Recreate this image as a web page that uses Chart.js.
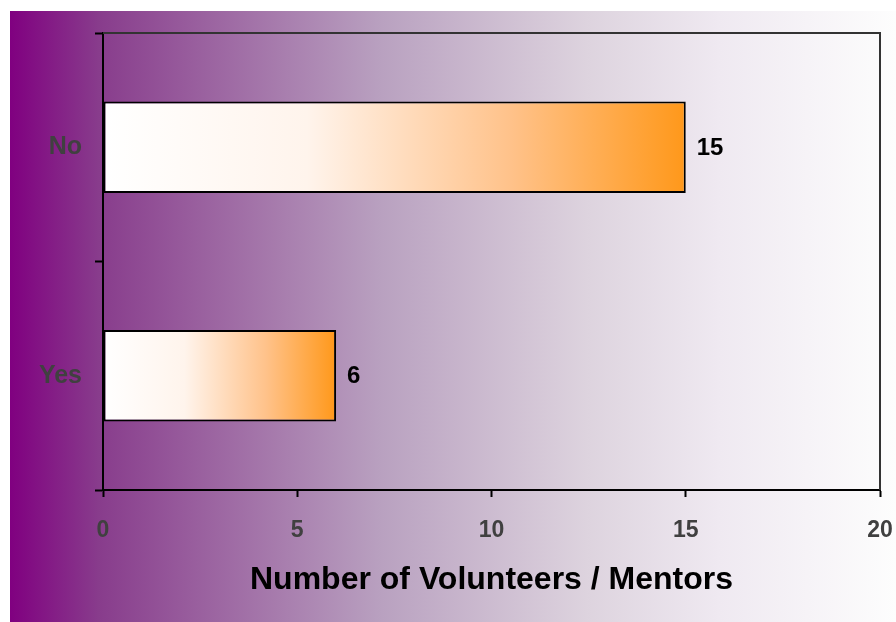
<!DOCTYPE html>
<html>
<head>
<meta charset="utf-8">
<script src="https://cdn.jsdelivr.net/npm/chart.js@4.4.0/dist/chart.umd.min.js"></script>
<style>
  html, body { margin: 0; padding: 0; background: #fff; }
  #wrap { width: 896px; height: 622px; }
</style>
</head>
<body>
<div id="wrap"><canvas id="myChart" width="896" height="622"></canvas></div>
<script>
// Survey answers and counts
const answers = ['No', 'Yes'];
const counts = [15, 6];
const xTicks = [0, 5, 10, 15, 20];

// Purple-to-white wash behind the whole chart
const backdrop = {
  id: 'backdrop',
  beforeDraw(chart) {
    const c = chart.ctx;
    c.save();
    c.fillStyle = '#ffffff';
    c.fillRect(0, 0, chart.width, chart.height);
    const g = c.createLinearGradient(10, 0, chart.width, 0);
    g.addColorStop(0, '#800080');
    g.addColorStop(0.1, '#883c8c');
    g.addColorStop(0.42, '#b9a1c0');
    g.addColorStop(0.65, '#ddd3de');
    g.addColorStop(0.8, '#efe9f1');
    g.addColorStop(1, '#fdfdfd');
    c.fillStyle = g;
    c.fillRect(10, 11, chart.width - 10, chart.height - 11);
    c.restore();
  }
};

// Top and right edges of the plot box, plus value labels
const frame = {
  id: 'frame',
  afterDatasetsDraw(chart) {
    const c = chart.ctx;
    const a = chart.chartArea;
    c.save();
    c.strokeStyle = '#333333';
    c.lineWidth = 2;
    c.beginPath();
    c.moveTo(a.left, a.top);
    c.lineTo(a.right, a.top);
    c.lineTo(a.right, a.bottom);
    c.stroke();

    c.fillStyle = '#000000';
    c.font = 'bold 24px "Liberation Sans", Arial, sans-serif';
    c.textBaseline = 'middle';
    c.textAlign = 'left';
    chart.getDatasetMeta(0).data.forEach((bar, i) => {
      c.fillText(String(counts[i]), bar.x + 11, bar.y + 1);
    });
    c.restore();
  }
};

function barFill(context) {
  const chart = context.chart;
  const x = chart.scales.x;
  if (!chart.chartArea || !x) return '#ff9a1f';
  const x0 = x.getPixelForValue(0);
  const x1 = x.getPixelForValue(counts[context.dataIndex]);
  const g = chart.ctx.createLinearGradient(x0, 0, x1, 0);
  g.addColorStop(0, '#ffffff');
  g.addColorStop(0.35, '#fff4ec');
  g.addColorStop(0.7, '#ffc28a');
  g.addColorStop(1, '#ff981a');
  return g;
}

const ctx = document.getElementById('myChart').getContext('2d');
const myChart = new Chart(ctx, {
  type: 'bar',
  data: {
    labels: answers,
    datasets: [{
      data: counts,
      backgroundColor: barFill,
      borderColor: '#000000',
      borderWidth: 2,
      borderSkipped: false,
      barPercentage: 0.4,
      categoryPercentage: 1
    }]
  },
  options: {
    indexAxis: 'y',
    responsive: false,
    animation: false,
    layout: { padding: { top: 33, right: 16, left: 0, bottom: 0 } },
    plugins: {
      legend: { display: false },
      tooltip: { enabled: false }
    },
    scales: {
      x: {
        min: 0,
        max: 20,
        afterBuildTicks(scale) {
          scale.ticks = xTicks.map(v => ({ value: v }));
        },
        afterFit(scale) {
          scale.height = 132;
          scale.paddingLeft = 0;
          scale.paddingRight = 0;
        },
        grid: {
          drawOnChartArea: false,
          drawTicks: true,
          tickLength: 7,
          tickWidth: 2,
          tickColor: '#000000'
        },
        border: { color: '#000000', width: 2 },
        ticks: {
          color: '#404040',
          padding: 20,
          font: { family: '"Liberation Sans", Arial, sans-serif', size: 23, weight: 'bold' }
        },
        title: {
          display: true,
          text: 'Number of Volunteers / Mentors',
          color: '#000000',
          padding: { top: 4, bottom: 23 },
          font: { family: '"Liberation Sans", Arial, sans-serif', size: 32, weight: 'bold' }
        }
      },
      y: {
        afterFit(scale) { scale.width = 103; },
        grid: {
          offset: true,
          drawOnChartArea: false,
          tickLength: 8,
          tickWidth: 2,
          tickColor: '#000000'
        },
        border: { color: '#000000', width: 2 },
        ticks: {
          color: '#404040',
          padding: 13,
          font: { family: '"Liberation Sans", Arial, sans-serif', size: 25, weight: 'bold' }
        }
      }
    }
  },
  plugins: [backdrop, frame]
});
</script>
</body>
</html>
